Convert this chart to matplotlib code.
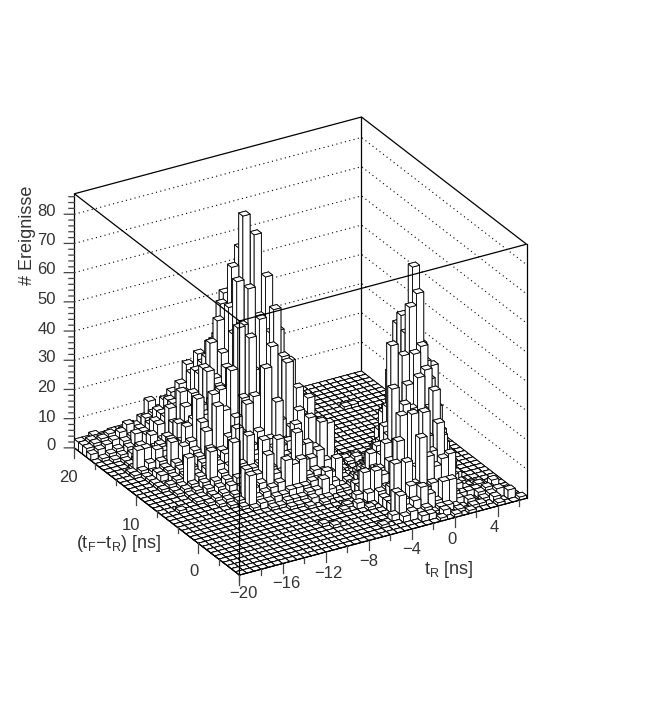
import numpy as np
import matplotlib
matplotlib.use("Agg")
import matplotlib.pyplot as plt

plt.rcParams['font.family'] = ['Liberation Sans', 'DejaVu Sans']
plt.rcParams['mathtext.default'] = 'regular'

# 40 x 40 bins of 2/3 ns: (tF-tR row, first tR column, counts)
rows = [
    (39, 0, [3,3,4,3,3,3,2,1]),
    (38, 0, [3,4,4,4,5,5,3,3,3,2,1]),
    (37, 0, [3,4,5,6,5,6,7,5,5,4,3,2,1]),
    (36, 0, [2,3,4,5,7,9,8,10,15,7,6,5,3,2]),
    (35, 1, [1,2,3,5,6,8,11,12,13,10,9,7,5,3]),
    (34, 2, [1,2,4,8,8,10,14,17,19,14,12,10,6,3]),
    (33, 3, [1,3,5,8,12,14,18,15,20,18,15,12,8,4]),
    (32, 3, [1,2,4,9,12,14,18,24,30,25,22,18,14,8,4]),
    (32, 33, [1,1]),
    (31, 3, [1,2,4,6,8,18,16,22,28,34,30,28,24,18,10,5]),
    (30, 2, [1,8,8,5,8,10,14,24,22,30,32,38,40,54,30,20,12,5]),
    (29, 2, [1,2,4,8,7,10,15,20,24,30,35,40,52,40,38,30,20,10,4]),
    (28, 3, [1,2,5,5,7,10,15,20,33,41,48,45,65,71,40,30,22,12,5]),
    (27, 3, [1,3,4,12,9,16,18,22,33,30,38,53,50,83,50,40,30,20,10,4]),
    (26, 3, [1,3,4,6,11,12,26,20,24,28,34,45,55,58,77,45,38,25,15,6]),
    (25, 3, [1,1,3,5,7,10,19,15,20,24,34,64,45,48,50,63,38,30,20,10,3]),
    (24, 3, [1,2,3,4,6,9,17,29,30,20,25,50,62,35,40,45,45,32,22,12,4]),
    (23, 4, [1,2,11,5,8,12,26,24,37,51,30,35,52,38,54,30,35,25,14,5]),
    (22, 4, [1,2,3,5,7,10,12,16,22,28,48,25,30,43,29,28,22,24,14,6]),
    (21, 5, [1,2,4,14,9,12,14,18,27,29,22,24,25,40,20,28,18,16,8,2]),
    (20, 5, [1,1,3,5,7,9,21,14,14,18,39,16,20,39,16,20,25,14,10,3]),
    (20, 26, [1,1]),
    (19, 5, [1,1,2,4,6,18,10,19,12,14,16,28,14,18,23,16,16,12,8,3]),
    (19, 26, [1,2,1]),
    (18, 2, [1]),
    (18, 6, [1,2,3,5,7,8,9,10,12,14,14,15,20,12,21,14,12,7,3]),
    (17, 7, [1,2,3,5,6,8,19,9,18,12,12,14,14,12,20,19,6,2]),
    (17, 27, [2,3,4,3,2]),
    (16, 8, [1,2,12,5,6,15,8,8,9,20,10,10,12,8,6,3,1]),
    (16, 26, [3,4,8,10,8,6,2]),
    (15, 9, [1,11,3,4,5,6,13,11,12,6,7,6,5,9,2,1,3,4,8,15,22,25,18,8,3]),
    (14, 10, [1,2,2,3,3,4,4,4,5,5,7,3,1,2,3,5,8,12,22,35,51,40,25,10,3]),
    (13, 12, [1,1,2,2,2,3,3,6,2,1,1,2,4,6,9,14,25,40,55,45,25,12,4]),
    (12, 14, [1,1,1,2,1,1,0,0,0,3,6,12,14,20,47,35,50,72,45,25,10,3]),
    (11, 16, [1,0,1,0,0,0,0,3,7,8,12,18,28,44,60,64,40,38,15,4]),
    (10, 22, [2,9,6,9,17,35,25,35,45,47,35,25,12,4]),
    (9, 20, [1,0,0,3,10,8,12,18,30,28,38,40,30,18,8,2]),
    (8, 19, [1,0,2,0,0,4,5,8,28,18,20,25,28,20,10,4]),
    (7, 22, [1,0,3,6,21,12,29,18,20,35,19,12,5,1]),
    (6, 15, [1]),
    (6, 24, [3,15,8,6,12,30,16,25,10,6,3,1,1]),
    (5, 16, [1]),
    (5, 24, [3,4,16,8,23,16,12,14,15,4,2,1,2]),
    (5, 38, [2]),
    (4, 24, [8,5,9,8,7,8,6,5,3,2,2,2,1,1]),
    (3, 23, [2,8,3,5,9,6,3,9,9,2,0,0,2,3,1]),
    (2, 21, [1]),
    (2, 24, [2,3,2,3,1,2,2,1,0,2,0,1,2,3,2]),
    (1, 26, [2,2,0,2,0,1,0,1,1,0,2,0,3]),
    (0, 28, [1,0,1,0,1,0,0,0,1,0,0,1]),
]
n_bins = 40
bin_w = 2/3
tr_start = -20
td_start = -20/3
z_top = 87.0

tr_major = [-20, -16, -12, -8, -4, 0, 4]
tr_minor = [-18, -14, -10, -6, -2, 2, 6]
td_major = [0, 10, 20]
td_minor = [-20/3, -10/3, 10/3, 20/3, 40/3, 50/3]
z_major = [0, 10, 20, 30, 40, 50, 60, 70, 80]
z_minor = [v for v in range(2, 87, 2) if v % 10]

counts = np.zeros((n_bins, n_bins))
for j, first, vals in rows:
    counts[j, first:first + len(vals)] = vals

W, H = 664, 705
fig = plt.figure(figsize=(W/100, H/100), dpi=100, facecolor='white')
side = 530
ax = fig.add_axes([28.3/W, 86.8/H, side/W, side/H], projection='3d', proj_type='ortho')
ax.computed_zorder = False
ax.view_init(elev=27, azim=-120.5)

xa, xb = tr_start, tr_start + n_bins*bin_w
ya, yb = td_start, td_start + n_bins*bin_w

# back walls first, bars are painted over them
lk = dict(color='black', lw=0.9, zorder=1)
ax.plot([xa, xa], [yb, yb], [0, z_top], **lk)
ax.plot([xb, xb], [yb, yb], [0, z_top], **lk)
ax.plot([xb, xb], [ya, ya], [0, z_top], **lk)
for v in z_major[1:]:
    ax.plot([xa, xb, xb], [yb, yb, ya], [v, v, v], color='black', lw=0.8,
            ls=(0, (1, 3)), zorder=1)

# one artist per cell, drawn back to front so tall bars hide what is behind them
for j in range(n_bins):
    for i in range(n_bins):
        ax.bar3d(xa + i*bin_w, ya + j*bin_w, 0, bin_w, bin_w, counts[j, i],
                 color='white', edgecolor='black', linewidth=0.6, shade=False,
                 zorder=100 - i - j)

# frame lines in front of the bars
fk = dict(color='black', lw=0.9, zorder=200)
ax.plot([xa, xa], [ya, ya], [0, z_top], **fk)
ax.plot([xa, xb, xb, xa, xa], [ya, ya, yb, yb, ya], [z_top]*5, **fk)
ax.plot([xa, xb], [ya, ya], [0, 0], **fk)
ax.plot([xa, xa], [ya, yb], [0, 0], **fk)

# ticks
tk = dict(color='#444444', lw=0.9, zorder=200)
for v in tr_major:
    ax.plot([v, v], [ya, ya], [0, -3.4], **tk)
for v in tr_minor:
    ax.plot([v, v], [ya, ya], [0, -1.9], **tk)
for v in td_major:
    ax.plot([xa, xa], [v, v], [0, -3.4], **tk)
for v in td_minor:
    ax.plot([xa, xa], [v, v], [0, -1.9], **tk)
for v in z_major:
    ax.plot([xa, xa - 0.7], [yb, yb + 0.42], [v, v], **tk)
for v in z_minor:
    ax.plot([xa, xa - 0.38], [yb, yb + 0.23], [v, v], **tk)

ax.set_xlim(xa, xb, view_margin=0)
ax.set_ylim(ya, yb, view_margin=0)
ax.set_zlim(0, z_top, view_margin=0)
ax.set_box_aspect((333, 325, 285))
ax.set_axis_off()
ax.patch.set_visible(False)


def label(px, py, s, **kw):
    kw.setdefault('fontsize', 12)
    kw.setdefault('color', '#333333')
    kw.setdefault('ha', 'center')
    kw.setdefault('va', 'center')
    fig.text(px/W, 1 - py/H, s, **kw)


for v, py in zip(z_major, [446, 417, 388, 358, 329, 299, 270, 241, 212]):
    label(56, py, str(v), ha='right')
for s, px, py in zip(['\u221220', '\u221216', '\u221212', '\u22128', '\u22124', '0', '4'],
                     [243, 286, 328, 369, 412, 452, 494],
                     [594, 583, 573, 562, 550, 539, 527]):
    label(px, py, s)
for s, px, py in zip(['0', '10', '20'], [194, 131, 68], [572, 525, 478]):
    label(px, py, s)
label(449, 569, 't$_{R}$ [ns]', fontsize=13)
label(119, 543, '(t$_{F}$\u2212t$_{R}$) [ns]', fontsize=13)
label(28, 235, '# Ereignisse', rotation=90, fontsize=13)

fig.savefig('out.png', dpi=100, facecolor='white')
